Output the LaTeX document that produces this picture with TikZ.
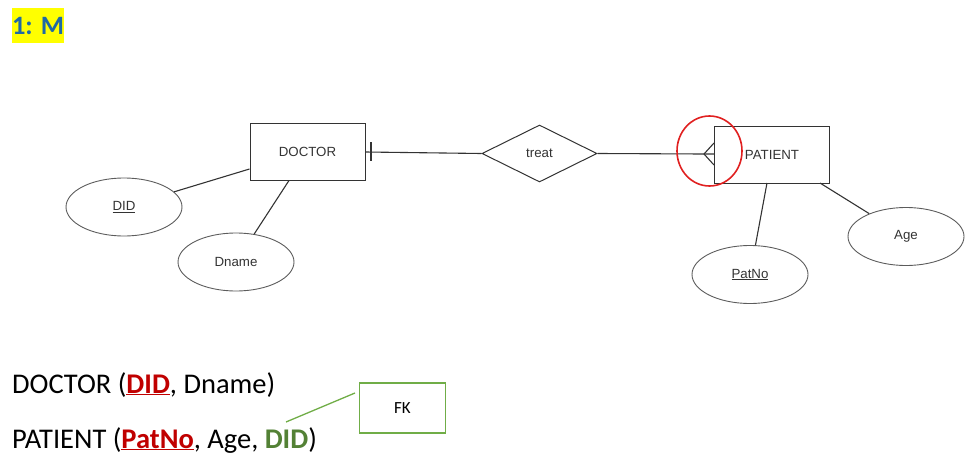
\documentclass[tikz,border=0pt]{standalone}
\usepackage{fontspec}
\setmainfont{Carlito}
\newfontfamily\arialf{Liberation Sans}
\usetikzlibrary{shapes.geometric}
\definecolor{erline}{HTML}{333333}
\definecolor{ertext}{HTML}{333333}
\definecolor{titleblue}{HTML}{1F6AA5}
\definecolor{hlyellow}{HTML}{FFFF00}
\definecolor{pkred}{HTML}{C00000}
\definecolor{fkgreen}{HTML}{538135}
\definecolor{boxgreen}{HTML}{70AD47}
\definecolor{circred}{HTML}{E02020}
\tikzset{
  entity/.style={draw=erline, line width=1pt, minimum width=115pt, minimum height=57pt, inner sep=0pt, font=\arialf\fontsize{13.3}{15}\selectfont, text=ertext},
  attr/.style={draw=erline!80, line width=0.9pt, ellipse, minimum width=116pt, minimum height=58pt, inner sep=0pt, font=\arialf\fontsize{13.3}{15}\selectfont, text=ertext},
  rel/.style={draw=erline, line width=1pt, diamond, minimum width=115pt, minimum height=57pt, inner sep=0pt, font=\arialf\fontsize{13.3}{15}\selectfont, text=ertext},
  conn/.style={draw=erline, line width=1.1pt},
  bigtext/.style={anchor=base west, inner sep=0pt, font=\fontsize{28.5}{30}\selectfont},
}
\begin{document}
\begin{tikzpicture}[x=1pt,y=-1pt]
\useasboundingbox (0,0) rectangle (970,466);
% title
\node[fill=hlyellow, minimum width=52pt, minimum height=35pt, inner sep=0pt, text=titleblue, font=\fontsize{26.5}{28}\bfseries\selectfont] (title) at (38,25.5) {1: M};
% entities
\node[entity] (doctor) at (307.5,151.5) {DOCTOR};
\node[entity] (patient) at (772,154.5) {PATIENT};
\node[rel] (treat) at (539.5,153.5) {treat};
% attributes
\node[attr] (did) at (124,207) {\underline{DID}};
\node[attr] (dname) at (236,262) {Dname};
\node[attr] (patno) at (750,274.5) {\underline{PatNo}};
\node[attr] (age) at (906,236.5) {Age};
% connectors
\coordinate (crow) at (704,154);
\draw[conn] (doctor.east |- 0,152) -- (treat.west);
\draw[conn] (treat.east) -- (crow) -- (patient.west |- 0,154);
\draw[conn] (crow) -- (patient.west |- 0,143);
\draw[conn] (crow) -- (patient.west |- 0,165);
\coordinate (tickT) at (371,142);
\coordinate (tickB) at (371,161);
\draw[conn] (tickT) -- (tickB);
\draw[conn] (did) -- (doctor.west |- 0,169);
\draw[conn] (dname) -- (289,180.5);
\draw[conn] (patno) -- (767,183);
\draw[conn] (age) -- (820,183);
% red circle
\node[draw=circred, line width=1.6pt, ellipse, minimum width=65pt, minimum height=70pt, inner sep=0pt] (mark) at (709.5,151) {};
% relational schema
\node[bigtext] (rel1) at (12,393) {DOCTOR (\textcolor{pkred}{\textbf{\underline{DID}}}, Dname)};
\node[bigtext] (rel2) at (12,448) {PATIENT (\textcolor{pkred}{\textbf{\underline{PatNo}}}, Age, \textcolor{fkgreen}{\textbf{DID}})};
\node[draw=boxgreen, line width=1.3pt, minimum width=86pt, minimum height=50pt, inner sep=0pt, font=\fontsize{17}{19}\selectfont] (fk) at (402.5,408) {FK};
\coordinate (fkend) at (286,422);
\draw[boxgreen, line width=1.3pt] (fkend) -- (355,393);
\end{tikzpicture}
\end{document}
